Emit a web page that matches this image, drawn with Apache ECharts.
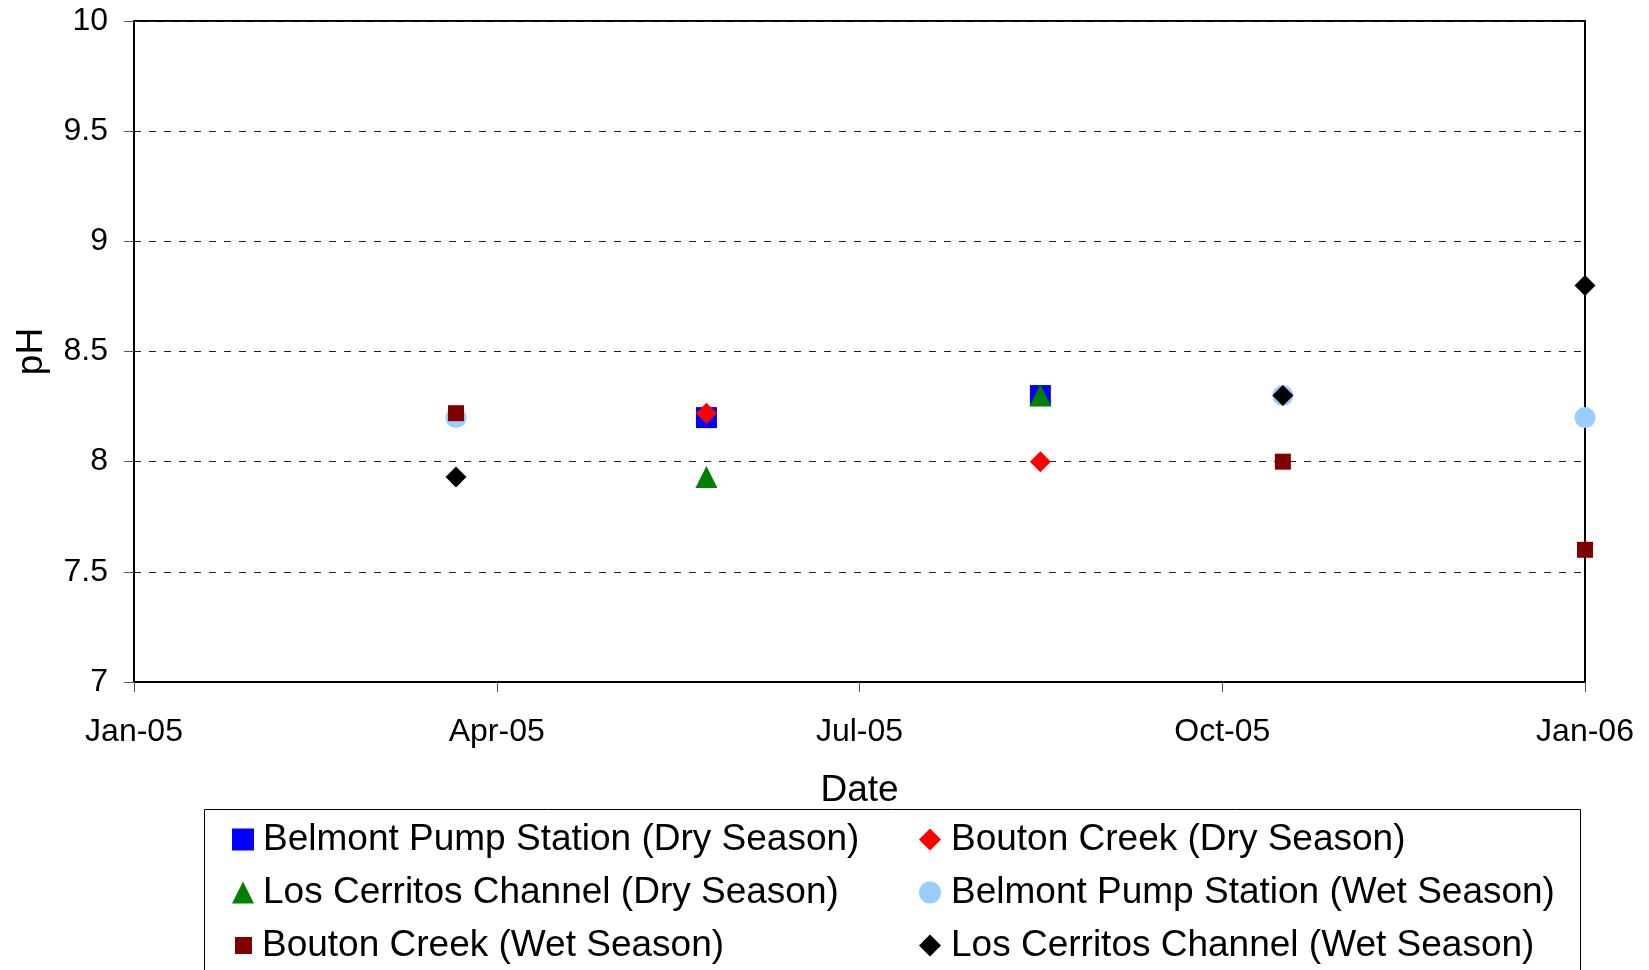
<!DOCTYPE html>
<html><head><meta charset="utf-8">
<script src="https://cdn.jsdelivr.net/npm/echarts@6/dist/echarts.min.js"></script>
<style>html,body{margin:0;padding:0;background:#fff}#c{width:1649px;height:970px}</style>
</head><body><div id="c"></div>
<script>
// ---- data ----
const xTickLabels = ['Jan-05','Apr-05','Jul-05','Oct-05','Jan-06'];
const yTickLabels = ['7','7.5','8','8.5','9','9.5','10'];
const seriesNames = [
  'Belmont Pump Station (Dry Season)',
  'Bouton Creek (Dry Season)',
  'Los Cerritos Channel (Dry Season)',
  'Belmont Pump Station (Wet Season)',
  'Bouton Creek (Wet Season)',
  'Los Cerritos Channel (Wet Season)'
];
const belmontDryDates = ['2005-05-25','2005-08-17'];
const belmontDryPH = [8.2, 8.3];
const boutonDryDates = ['2005-05-25','2005-08-17'];
const boutonDryPH = [8.22, 8.0];
const losCerritosDryDates = ['2005-05-25','2005-08-17'];
const losCerritosDryPH = [7.93, 8.3];
const belmontWetDates = ['2005-03-23','2005-10-17','2006-01-01'];
const belmontWetPH = [8.2, 8.3, 8.2];
const boutonWetDates = ['2005-03-23','2005-10-17','2006-01-01'];
const boutonWetPH = [8.22, 8.0, 7.6];
const losCerritosWetDates = ['2005-03-23','2005-10-17','2006-01-01'];
const losCerritosWetPH = [7.93, 8.3, 8.8];

// ---- helpers ----
const ORIGIN = Date.UTC(2005, 0, 1);
function dayOffset(s) {
  const p = s.split('-').map(Number);
  return (Date.UTC(p[0], p[1] - 1, p[2]) - ORIGIN) / 86400000;
}
function pts(dates, vals) { return dates.map((d, i) => [dayOffset(d), vals[i]]); }

const FONT = "'Liberation Sans', Arial, sans-serif";
const styles = [
  {symbol: 'rect', size: 21, color: '#0000FF'},
  {symbol: 'diamond', size: 21, color: '#FF0000'},
  {symbol: 'triangle', size: 22, color: '#008000'},
  {symbol: 'circle', size: 21, color: '#99CCFF'},
  {symbol: 'rect', size: 16, color: '#800000'},
  {symbol: 'diamond', size: 21, color: '#000000'}
];
const dataSets = [
  pts(belmontDryDates, belmontDryPH),
  pts(boutonDryDates, boutonDryPH),
  pts(losCerritosDryDates, losCerritosDryPH),
  pts(belmontWetDates, belmontWetPH),
  pts(boutonWetDates, boutonWetPH),
  pts(losCerritosWetDates, losCerritosWetPH)
];

const series = dataSets.map((d, i) => ({
  name: seriesNames[i],
  type: 'scatter',
  data: d,
  symbol: styles[i].symbol,
  symbolSize: styles[i].size,
  itemStyle: {color: styles[i].color, opacity: 1},
  clip: false,
  z: 3 + i
}));

const legendText = {fontFamily: FONT, fontSize: 37, color: '#000', lineHeight: 36};
function legend(names, left, top, size, padLeft) {
  return {
    orient: 'vertical', left: left, top: top, padding: 0,
    itemWidth: size, itemHeight: size, itemGap: 16,
    selectedMode: false,
    data: names,
    textStyle: Object.assign({}, legendText, {padding: [0, 0, 0, padLeft]})
  };
}

const chart = echarts.init(document.getElementById('c'), null, {renderer: 'canvas'});
chart.setOption({
  backgroundColor: '#fff',
  animation: false,
  grid: {left: 134, right: 64, top: 21, bottom: 288, show: true, borderColor: '#000', borderWidth: 2, backgroundColor: 'transparent'},
  xAxis: {
    type: 'value', min: 0, max: 365, interval: 91.25,
    name: 'Date', nameLocation: 'middle', nameGap: 90,
    nameTextStyle: {fontFamily: FONT, fontSize: 37, color: '#000'},
    axisLine: {show: true, onZero: false, lineStyle: {color: '#000', width: 2}},
    axisTick: {show: true, length: 10, lineStyle: {color: '#555', width: 1}},
    axisLabel: {margin: 34, fontFamily: FONT, fontSize: 32, color: '#000',
      formatter: v => xTickLabels[Math.round(v / 91.25)]},
    splitLine: {show: false}
  },
  yAxis: {
    type: 'value', min: 7, max: 10, interval: 0.5,
    name: 'pH', nameLocation: 'middle', nameGap: 84, nameRotate: 90,
    nameTextStyle: {fontFamily: FONT, fontSize: 37, color: '#000'},
    axisLine: {show: true, onZero: false, lineStyle: {color: '#000', width: 2}},
    axisTick: {show: true, length: 10, lineStyle: {color: '#555', width: 1}},
    axisLabel: {margin: 26, fontFamily: FONT, fontSize: 32, color: '#000',
      formatter: v => yTickLabels[Math.round((v - 7) / 0.5)]},
    splitLine: {show: true, lineStyle: {color: '#222', width: 1, type: [7, 8]}}
  },
  legend: [
    legend([seriesNames[0], seriesNames[2]], 232, 821, 22, 4),
    legend([seriesNames[4]], 235, 927, 17, 5),
    legend([seriesNames[1], seriesNames[3], seriesNames[5]], 919, 821, 22, 5)
  ],
  graphic: [{
    type: 'rect', left: 202, top: 807, silent: true, z: -1,
    shape: {width: 1376, height: 200},
    style: {fill: 'none', stroke: '#000', lineWidth: 1}
  }],
  series: series
});
</script></body></html>
